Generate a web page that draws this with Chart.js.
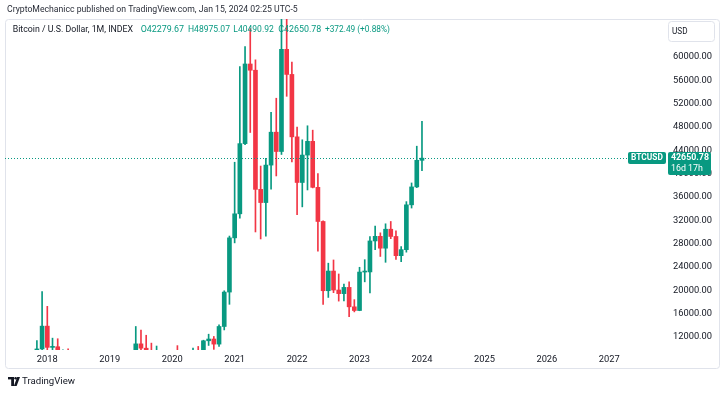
<!DOCTYPE html>
<html>
<head>
<meta charset="utf-8">
<script src="https://cdn.jsdelivr.net/npm/chart.js@4.4.1/dist/chart.umd.min.js"></script>
<style>
  html, body { margin: 0; padding: 0; background: #fff; }
  #wrap { position: relative; width: 725px; height: 395px; }
</style>
</head>
<body>
<div id="wrap"><canvas id="btc" width="725" height="395"></canvas></div>
<script>
// monthly candles, BTC/USD INDEX
const months = [
  '2017-06','2017-07','2017-08','2017-09','2017-10','2017-11','2017-12',
  '2018-01','2018-02','2018-03','2018-04','2018-05','2018-06','2018-07','2018-08','2018-09','2018-10','2018-11','2018-12',
  '2019-01','2019-02','2019-03','2019-04','2019-05','2019-06','2019-07','2019-08','2019-09','2019-10','2019-11','2019-12',
  '2020-01','2020-02','2020-03','2020-04','2020-05','2020-06','2020-07','2020-08','2020-09','2020-10','2020-11','2020-12',
  '2021-01','2021-02','2021-03','2021-04','2021-05','2021-06','2021-07','2021-08','2021-09','2021-10','2021-11','2021-12',
  '2022-01','2022-02','2022-03','2022-04','2022-05','2022-06','2022-07','2022-08','2022-09','2022-10','2022-11','2022-12',
  '2023-01','2023-02','2023-03','2023-04','2023-05','2023-06','2023-07','2023-08','2023-09','2023-10','2023-11','2023-12',
  '2024-01'
];
const open = [
  2300, 2480, 2875, 4700, 4340, 6450, 9950,
  13860, 10220, 10330, 6930, 9240, 7490, 6390, 7730, 7030, 6630, 6370, 4040,
  3740, 3460, 3820, 4100, 5320, 8560, 10820, 10080, 9630, 8300, 9150, 7550,
  7190, 9390, 8540, 6420, 8630, 9450, 9140, 11350, 11650, 10780, 13800, 19700,
  28990, 33110, 45140, 58790, 57720, 37300, 35040, 41460, 47100, 43790, 61300, 57000,
  46300, 38480, 43180, 45530, 37650, 31800, 19930, 23300, 20050, 19430, 20500, 17170,
  16540, 23130, 23150, 28460, 29250, 27220, 30470, 29230, 25940, 26970, 34650, 37720,
  42279.67
];
const high = [
  2980, 2920, 4770, 4980, 6470, 11400, 19800,
  17250, 11800, 11700, 9780, 9990, 7770, 8500, 7760, 7410, 7680, 6600, 4400,
  4110, 4200, 4150, 5600, 9100, 13800, 13200, 12300, 10950, 10450, 9530, 7750,
  9590, 10520, 9190, 9470, 10080, 10380, 11450, 12480, 12090, 14100, 19920, 29300,
  41950, 58350, 61780, 64850, 59500, 41300, 42600, 50500, 52920, 67000, 69000, 59100,
  47990, 45800, 48200, 47450, 40000, 31900, 24650, 25200, 22800, 21080, 21470, 18400,
  23950, 25250, 29200, 31000, 29850, 31400, 31800, 30200, 27500, 35200, 38400, 44700,
  48975.07
];
const low = [
  2000, 1840, 2670, 2970, 4110, 5500, 9700,
  9000, 5900, 6600, 6430, 7040, 5780, 6070, 5880, 6120, 6200, 3550, 3150,
  3350, 3380, 3700, 4060, 5300, 7450, 9080, 9330, 7730, 7300, 6520, 6430,
  6870, 8450, 3800, 6150, 8100, 8830, 8980, 10550, 9880, 10380, 13210, 17600,
  28130, 32380, 44950, 47050, 30000, 28800, 29300, 37330, 39600, 43280, 53250, 42000,
  32950, 34300, 37200, 37550, 26700, 17600, 18780, 19600, 18150, 18200, 15500, 16300,
  16500, 21450, 19570, 26950, 25800, 24800, 28850, 25300, 24900, 26540, 34100, 37600,
  40490.92
];
const close = [
  2480, 2875, 4700, 4340, 6450, 9950, 13860,
  10220, 10330, 6930, 9240, 7490, 6390, 7730, 7030, 6630, 6370, 4040, 3740,
  3460, 3820, 4100, 5320, 8560, 10820, 10080, 9630, 8300, 9150, 7550, 7190,
  9390, 8540, 6420, 8630, 9450, 9140, 11350, 11650, 10780, 13800, 19700, 28990,
  33110, 45140, 58790, 57720, 37300, 35040, 41460, 47100, 43790, 61300, 57000, 46300,
  38480, 43180, 45530, 37650, 31800, 19930, 23300, 20050, 19430, 20500, 17170, 16540,
  23130, 23150, 28460, 29250, 27220, 30470, 29230, 25940, 26970, 34650, 37720, 42278.29,
  42650.78
];
const yearLabels = ['2018','2019','2020','2021','2022','2023','2024','2025','2026','2027'];
const priceTicks = [12000, 16000, 20000, 24000, 28000, 32000, 36000, 40000, 44000, 48000, 52000, 56000, 60000];

const GREEN = '#089981';
const RED = '#f23645';
const TEXT = '#131722';
const FONT = 'Roboto, "Liberation Sans", sans-serif';

// month index counted from Jan 2018
const xs = months.map(m => {
  const [y, mo] = m.split('-').map(Number);
  return (y - 2018) * 12 + (mo - 1);
});
const colors = close.map((c, i) => c >= open[i] ? GREEN : RED);
const last = close.length - 1;

// draw text squeezed to a given width (the screenshot font runs narrow)
function fitText(c, text, x, y, width, weight) {
  c.font = (weight || '') + ' 10px ' + FONT;
  const size = 10 * width / c.measureText(text).width;
  c.font = (weight || '') + ' ' + size.toFixed(2) + 'px ' + FONT;
  c.fillText(text, x, y);
  return size;
}

const tvDecor = {
  id: 'tvDecor',
  beforeDraw(chart) {
    const c = chart.ctx;
    c.save();
    c.fillStyle = '#fff';
    c.fillRect(0, 0, chart.width, chart.height);
    c.fillStyle = '#2a2e39';
    c.textBaseline = 'middle';
    fitText(c, 'CryptoMechanicc published on TradingView.com, Jan 15, 2024 02:25 UTC-5', 7, 10, 291);
    // frame
    c.strokeStyle = '#e0e3eb';
    c.lineWidth = 1;
    c.beginPath();
    c.roundRect(5.5, 19.5, 714, 349, 3);
    c.stroke();
    c.restore();
  },
  afterDatasetsDraw(chart) {
    const c = chart.ctx;
    const y = Math.round(chart.scales.y.getPixelForValue(close[last])) + 0.5;
    c.save();
    c.strokeStyle = GREEN;
    c.lineWidth = 1;
    c.setLineDash([1, 2]);
    c.beginPath();
    c.moveTo(chart.chartArea.left, y);
    c.lineTo(628, y);
    c.stroke();
    c.restore();
  },
  afterDraw(chart) {
    const c = chart.ctx;
    const y = Math.round(chart.scales.y.getPixelForValue(close[last]));
    c.save();
    c.textBaseline = 'middle';
    // last price labels
    c.fillStyle = GREEN;
    c.beginPath(); c.roundRect(628, y - 6, 38, 12, 2); c.fill();
    c.beginPath(); c.roundRect(668, y - 6, 43, 23, 2); c.fill();
    c.fillStyle = '#fff';
    c.textAlign = 'left';
    fitText(c, 'BTCUSD', 631, y, 32, 'bold');
    fitText(c, close[last].toFixed(2), 671, y, 38, 'bold');
    fitText(c, '16d 17h', 671, y + 11, 32);
    // currency box
    c.strokeStyle = '#e0e3eb';
    c.beginPath(); c.roundRect(668.5, 21.5, 46, 20, 3); c.stroke();
    c.fillStyle = TEXT;
    fitText(c, 'USD', 672, 32, 15.5);
    // legend
    fitText(c, 'Bitcoin / U.S. Dollar, 1M, INDEX', 12.7, 30, 120.5);
    c.fillStyle = GREEN;
    const chg = close[last] - close[last - 1];
    const parts = [
      ['O' + open[last].toFixed(2), 140.7, 43.5],
      ['H' + high[last].toFixed(2), 188, 42],
      ['L' + low[last].toFixed(2), 233.3, 40.5],
      ['C' + close[last].toFixed(2), 278.3, 43],
      ['+' + chg.toFixed(2) + ' (+' + (chg / close[last - 1] * 100).toFixed(2) + '%)', 325, 65]
    ];
    parts.forEach(([t, x, w]) => fitText(c, t, x, 30, w));
    // TradingView logo
    c.fillStyle = TEXT;
    c.fillRect(8, 377, 6, 2.4);
    c.fillRect(11.2, 377, 2.8, 9);
    c.beginPath(); c.arc(15.6, 378.3, 1.3, 0, Math.PI * 2); c.fill();
    c.beginPath();
    c.moveTo(17.2, 377); c.lineTo(20, 377); c.lineTo(16.6, 386); c.lineTo(13.9, 386);
    c.closePath(); c.fill();
    fitText(c, 'TradingView', 22, 381.5, 53);
    c.restore();
  }
};

new Chart(document.getElementById('btc').getContext('2d'), {
  type: 'bar',
  data: {
    datasets: [
      {
        label: 'wick',
        data: xs.map((x, i) => ({x: x, y: [low[i], high[i]]})),
        backgroundColor: colors,
        barThickness: 1,
        order: 2
      },
      {
        label: 'body',
        data: xs.map((x, i) => ({x: x, y: [open[i], close[i]]})),
        backgroundColor: colors,
        barThickness: 4,
        minBarLength: 1,
        order: 1
      }
    ]
  },
  options: {
    responsive: false,
    animation: false,
    events: [],
    datasets: {bar: {grouped: false}},
    layout: {padding: {left: 5, top: 19, right: 5, bottom: 27}},
    plugins: {legend: {display: false}, tooltip: {enabled: false}},
    scales: {
      x: {
        type: 'linear',
        offset: false,
        min: -8.13,
        max: 118.7,
        grid: {display: false, drawTicks: false},
        border: {display: false},
        afterBuildTicks: s => { s.ticks = yearLabels.map((_, i) => ({value: i * 12})); },
        afterFit: s => { s.height = 18; },
        ticks: {
          autoSkip: false,
          maxRotation: 0,
          padding: 4,
          color: TEXT,
          font: {family: FONT, size: 9.3},
          callback: (v, i) => yearLabels[i]
        }
      },
      y: {
        position: 'right',
        min: 9770,
        max: 66500,
        grid: {display: false, drawTicks: false},
        border: {display: false},
        afterBuildTicks: s => { s.ticks = priceTicks.map(v => ({value: v})); },
        afterFit: s => { s.width = 55; },
        ticks: {
          padding: 8,
          color: TEXT,
          font: {family: FONT, size: 9.3},
          callback: v => v.toFixed(2)
        }
      }
    }
  },
  plugins: [tvDecor]
});
</script>
</body>
</html>
